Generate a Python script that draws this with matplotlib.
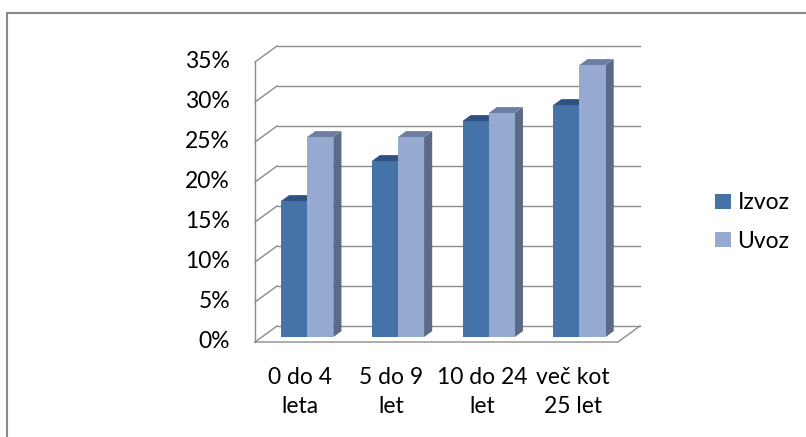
import matplotlib
matplotlib.use("Agg")
import matplotlib.pyplot as plt
from matplotlib.patches import Polygon, Patch, Rectangle
from matplotlib.transforms import offset_copy

plt.rcParams["font.family"] = ["Lato", "DejaVu Sans"]

categories = ["0 do 4\nleta", "5 do 9\nlet", "10 do 24\nlet", "več kot\n25 let"]
series = ["Izvoz", "Uvoz"]
izvoz = [17, 22, 27, 29]   # %
uvoz = [25, 25, 28, 34]    # %
yticks = [0, 5, 10, 15, 20, 25, 30, 35]

# colours: front, top, side
COL = {
    "Izvoz": ("#4572A7", "#2F5283", "#34557F"),
    "Uvoz": ("#95A9D1", "#6E7EA0", "#5B6B85"),
}
GRID = "#8C8C8C"
FS = 16.5

# oblique depth of the 3D box in data units
DX, DY = 0.242, 2.0
F0, F1 = 0.31, 0.68      # bar depth (fraction of box depth)
W = 0.288                # bar width (gap 150%)

fig = plt.figure(figsize=(8.06, 4.37), dpi=100)
ax = fig.add_axes([255 / 806, 95 / 437, 363 / 806, 280 / 437])
ax.set_xlim(0, len(categories))
ax.set_ylim(0, 35)
ax.axis("off")

# walls / gridlines
n = len(categories)
for t in yticks:
    ax.plot([DX, n + DX], [t + DY, t + DY], color=GRID, lw=1.0, clip_on=False, zorder=1)
    ax.plot([0, DX], [t, t + DY], color=GRID, lw=1.0, clip_on=False, zorder=1)
ax.plot([0, 0], [0, yticks[-1]], color=GRID, lw=1.0, clip_on=False, zorder=1)
ax.plot([0, n, n + DX], [0, 0, DY], color=GRID, lw=1.0, clip_on=False, zorder=1)

# 3D-looking bars
d = F1 - F0
for i in range(n):
    for k, (name, vals) in enumerate(zip(series, [izvoz, uvoz])):
        front, top, side = COL[name]
        x0 = i + 0.5 - W + k * W + F0 * DX
        y0 = F0 * DY
        y1 = vals[i] + y0
        z = 3 + i * 2 + k
        ax.add_patch(Polygon([(x0 + W, y0), (x0 + W + d * DX, y0 + d * DY),
                              (x0 + W + d * DX, y1 + d * DY), (x0 + W, y1)],
                             closed=True, fc=side, ec="none", clip_on=False, zorder=z))
        ax.add_patch(Polygon([(x0, y1), (x0 + W, y1), (x0 + W + d * DX, y1 + d * DY),
                              (x0 + d * DX, y1 + d * DY)],
                             closed=True, fc=top, ec="none", clip_on=False, zorder=z))
        ax.add_patch(Rectangle((x0, y0), W, vals[i], fc=front, ec="none",
                               clip_on=False, zorder=z))

# tick labels
tr_y = offset_copy(ax.transData, fig=fig, x=-25, y=0, units="dots")
for t in yticks:
    ax.text(0, t, f"{t}%", transform=tr_y, ha="right", va="center", fontsize=FS, color="#000")
tr_x = offset_copy(ax.transData, fig=fig, x=0, y=-50, units="dots")
for i, c in enumerate(categories):
    ax.text(i + 0.5, 0, c, transform=tr_x, ha="center", va="center", fontsize=FS,
            linespacing=1.5, color="#000")

# legend
handles = [Patch(fc=COL[s][0], ec="none") for s in series]
fig.legend(handles, series, loc="center left", bbox_to_anchor=(699 / 806, 1 - 222 / 437),
           frameon=False, fontsize=FS, handlelength=0.68, handleheight=0.68,
           handletextpad=0.3, labelspacing=0.75, borderpad=0.2)

# chart frame (only top/left visible)
fig.patches.append(Rectangle((6.5 / 806, -0.2), 1.2, 1.2 - 12.5 / 437, transform=fig.transFigure,
                             fill=False, ec="#8A8A8A", lw=1.5))

fig.savefig("out.png", dpi=100)
